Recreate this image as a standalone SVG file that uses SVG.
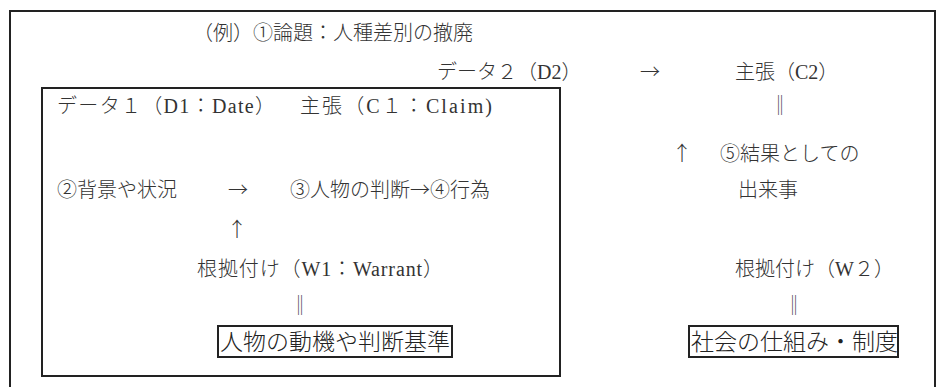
<svg xmlns="http://www.w3.org/2000/svg" width="943" height="387" viewBox="0 0 943 387">
<style>
text{font-family:"Liberation Serif","Noto Sans CJK JP",serif;font-size:20px;font-weight:300;fill:#333;}
.big{font-size:23px;fill:#222;}
.frame{fill:none;stroke:#222;stroke-width:2;}
.sym{font-family:"Noto Sans CJK JP","Liberation Serif",serif;}
</style>
<rect width="943" height="387" fill="#fff"/>
<rect class="frame" x="10" y="11" width="925" height="400"/>
<g id="d1-box"><rect class="frame" x="42" y="88" width="518" height="288"/></g>
<g id="title"><text x="193" y="40">（例）①論題：人種差別の撤廃</text></g>
<g id="d2"><text x="437" y="79">データ２（D2）</text></g>
<g id="c2"><text x="735" y="79">主張（C2）</text></g>
<g id="d1"><text x="57" y="113" textLength="218" lengthAdjust="spacing">データ１（D1：Date）</text></g>
<g id="c1"><text x="300" y="113" textLength="192" lengthAdjust="spacing">主張（C１：Claim)</text></g>
<g id="event"><text x="720" y="161">⑤結果としての</text><text x="738" y="197">出来事</text></g>
<g id="bg"><text x="57" y="197">②背景や状況</text></g>
<g id="judge"><text x="290" y="197">③人物の判断</text></g>
<g id="act"><text x="430" y="197">④行為</text></g>
<g id="w1"><text x="197" y="276" textLength="246" lengthAdjust="spacing">根拠付け（W1：Warrant）</text></g>
<g id="w2"><text x="735" y="276">根拠付け（W２）</text></g>
<g id="w1-basis"><rect class="frame" x="218" y="326" width="234" height="31"/><text class="big" x="220" y="350">人物の動機や判断基準</text></g>
<g id="w2-basis"><rect class="frame" x="689" y="326" width="209" height="31"/><text class="big" x="691" y="350">社会の仕組み・制度</text></g>
<g id="connectors" class="sym">
<text class="sym" x="640" y="79">→</text>
<text class="sym" x="770" y="113">‖</text>
<text class="sym" x="672" y="161">↑</text>
<text class="sym" x="228" y="197">→</text>
<text class="sym" x="410" y="197">→</text>
<text class="sym" x="227" y="237">↑</text>
<text class="sym" x="290" y="313">‖</text>
<text class="sym" x="784" y="313">‖</text>
</g>
</svg>
